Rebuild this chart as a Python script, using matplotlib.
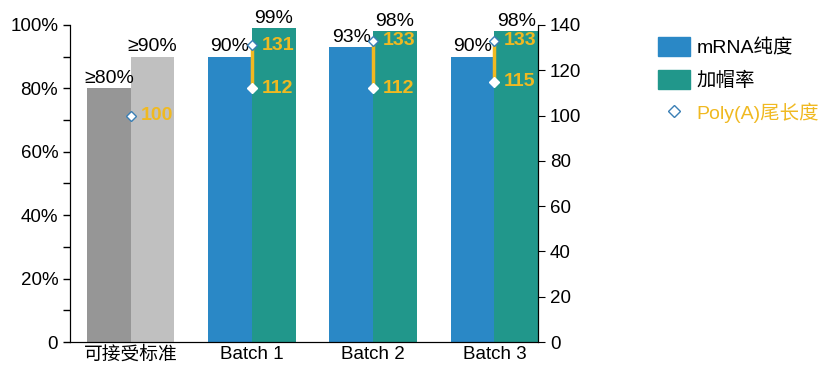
import matplotlib.pyplot as plt
from matplotlib.patches import Patch
from matplotlib.lines import Line2D
import numpy as np

plt.rcParams['font.family'] = ['Liberation Sans', 'Noto Sans CJK SC', 'DejaVu Sans']

# --- 数据 ---
categories = ['可接受标准', 'Batch 1', 'Batch 2', 'Batch 3']
purity = [80, 90, 93, 90]          # mRNA纯度 (%)
capping = [90, 99, 98, 98]         # 加帽率 (%)
purity_labels = ['≥80%', '90%', '93%', '90%']
capping_labels = ['≥90%', '99%', '98%', '98%']
polya_high = [100, 131, 133, 133]  # Poly(A)尾长度 上限
polya_low = [None, 112, 112, 115]  # Poly(A)尾长度 下限

blue = '#2a88c6'
teal = '#21978b'
gray1 = '#969696'
gray2 = '#c0c0c0'
gold = '#f0b921'
edge = '#3a7fb5'

fig = plt.figure(figsize=(8.2, 3.71), dpi=100)
ax = fig.add_axes([0.0854, 0.078, 0.5707, 0.8548])
ax2 = ax.twinx()

x = np.arange(len(categories))
w = 0.36
c1 = [gray1] + [blue] * 3
c2 = [gray2] + [teal] * 3
ax.bar(x - w / 2, purity, w, color=c1)
ax.bar(x + w / 2, capping, w, color=c2)

for i in range(len(categories)):
    ax.annotate(purity_labels[i], (x[i] - w / 2, purity[i]), xytext=(0, 1),
                textcoords='offset points', ha='center', va='bottom', fontsize=14)
    ax.annotate(capping_labels[i], (x[i] + w / 2, capping[i]), xytext=(0, 1),
                textcoords='offset points', ha='center', va='bottom', fontsize=14)

ax.set_xlim(-0.5, 3 + w)
ax.set_ylim(0, 100)
ax.set_yticks(np.arange(0, 101, 20))
ax.set_yticks(np.arange(0, 101, 10), minor=True)
ax.set_yticklabels(['0'] + [f'{v}%' for v in range(20, 101, 20)])
ax.set_xticks(x)
ax.set_xticklabels(categories)
ax.tick_params(axis='x', length=0, labelsize=13.5, pad=3)
ax.tick_params(axis='y', which='both', length=5, labelsize=13.5, width=1)
ax.spines['top'].set_visible(False)

# Poly(A) 尾长度
ax2.set_ylim(0, 140)
ax2.set_yticks(np.arange(0, 141, 20))
ax2.tick_params(axis='y', length=5, labelsize=13.5)
ax2.spines['top'].set_visible(False)
for i in range(len(categories)):
    if polya_low[i] is not None:
        ax2.plot([x[i], x[i]], [polya_low[i], polya_high[i]], color=gold, lw=2.5, zorder=3)
        ax2.plot(x[i], polya_low[i], marker='D', ms=5, mfc='white', mec='white', zorder=4)
        ax2.annotate(str(polya_low[i]), (x[i], polya_low[i]), xytext=(7, 0),
                     textcoords='offset points', ha='left', va='center',
                     color=gold, fontsize=14, fontweight='bold')
    ax2.plot(x[i], polya_high[i], marker='D', ms=5, mfc='white', mec=edge, mew=1, zorder=4)
    ax2.annotate(str(polya_high[i]), (x[i], polya_high[i]), xytext=(7, 0),
                 textcoords='offset points', ha='left', va='center',
                 color=gold, fontsize=14, fontweight='bold')

handles = [Patch(color=blue), Patch(color=teal),
           Line2D([], [], ls='none', marker='D', ms=6, mfc='white', mec=edge)]
leg = fig.legend(handles, ['mRNA纯度', '加帽率', 'Poly(A)尾长度'], loc='upper left',
                 bbox_to_anchor=(0.8024, 0.9), frameon=False, fontsize=14,
                 borderpad=0, borderaxespad=0,
                 handlelength=1.65, handleheight=1.15, labelspacing=0.65, handletextpad=0.35)
leg.get_texts()[2].set_color(gold)

fig.savefig('out.png', dpi=100)
